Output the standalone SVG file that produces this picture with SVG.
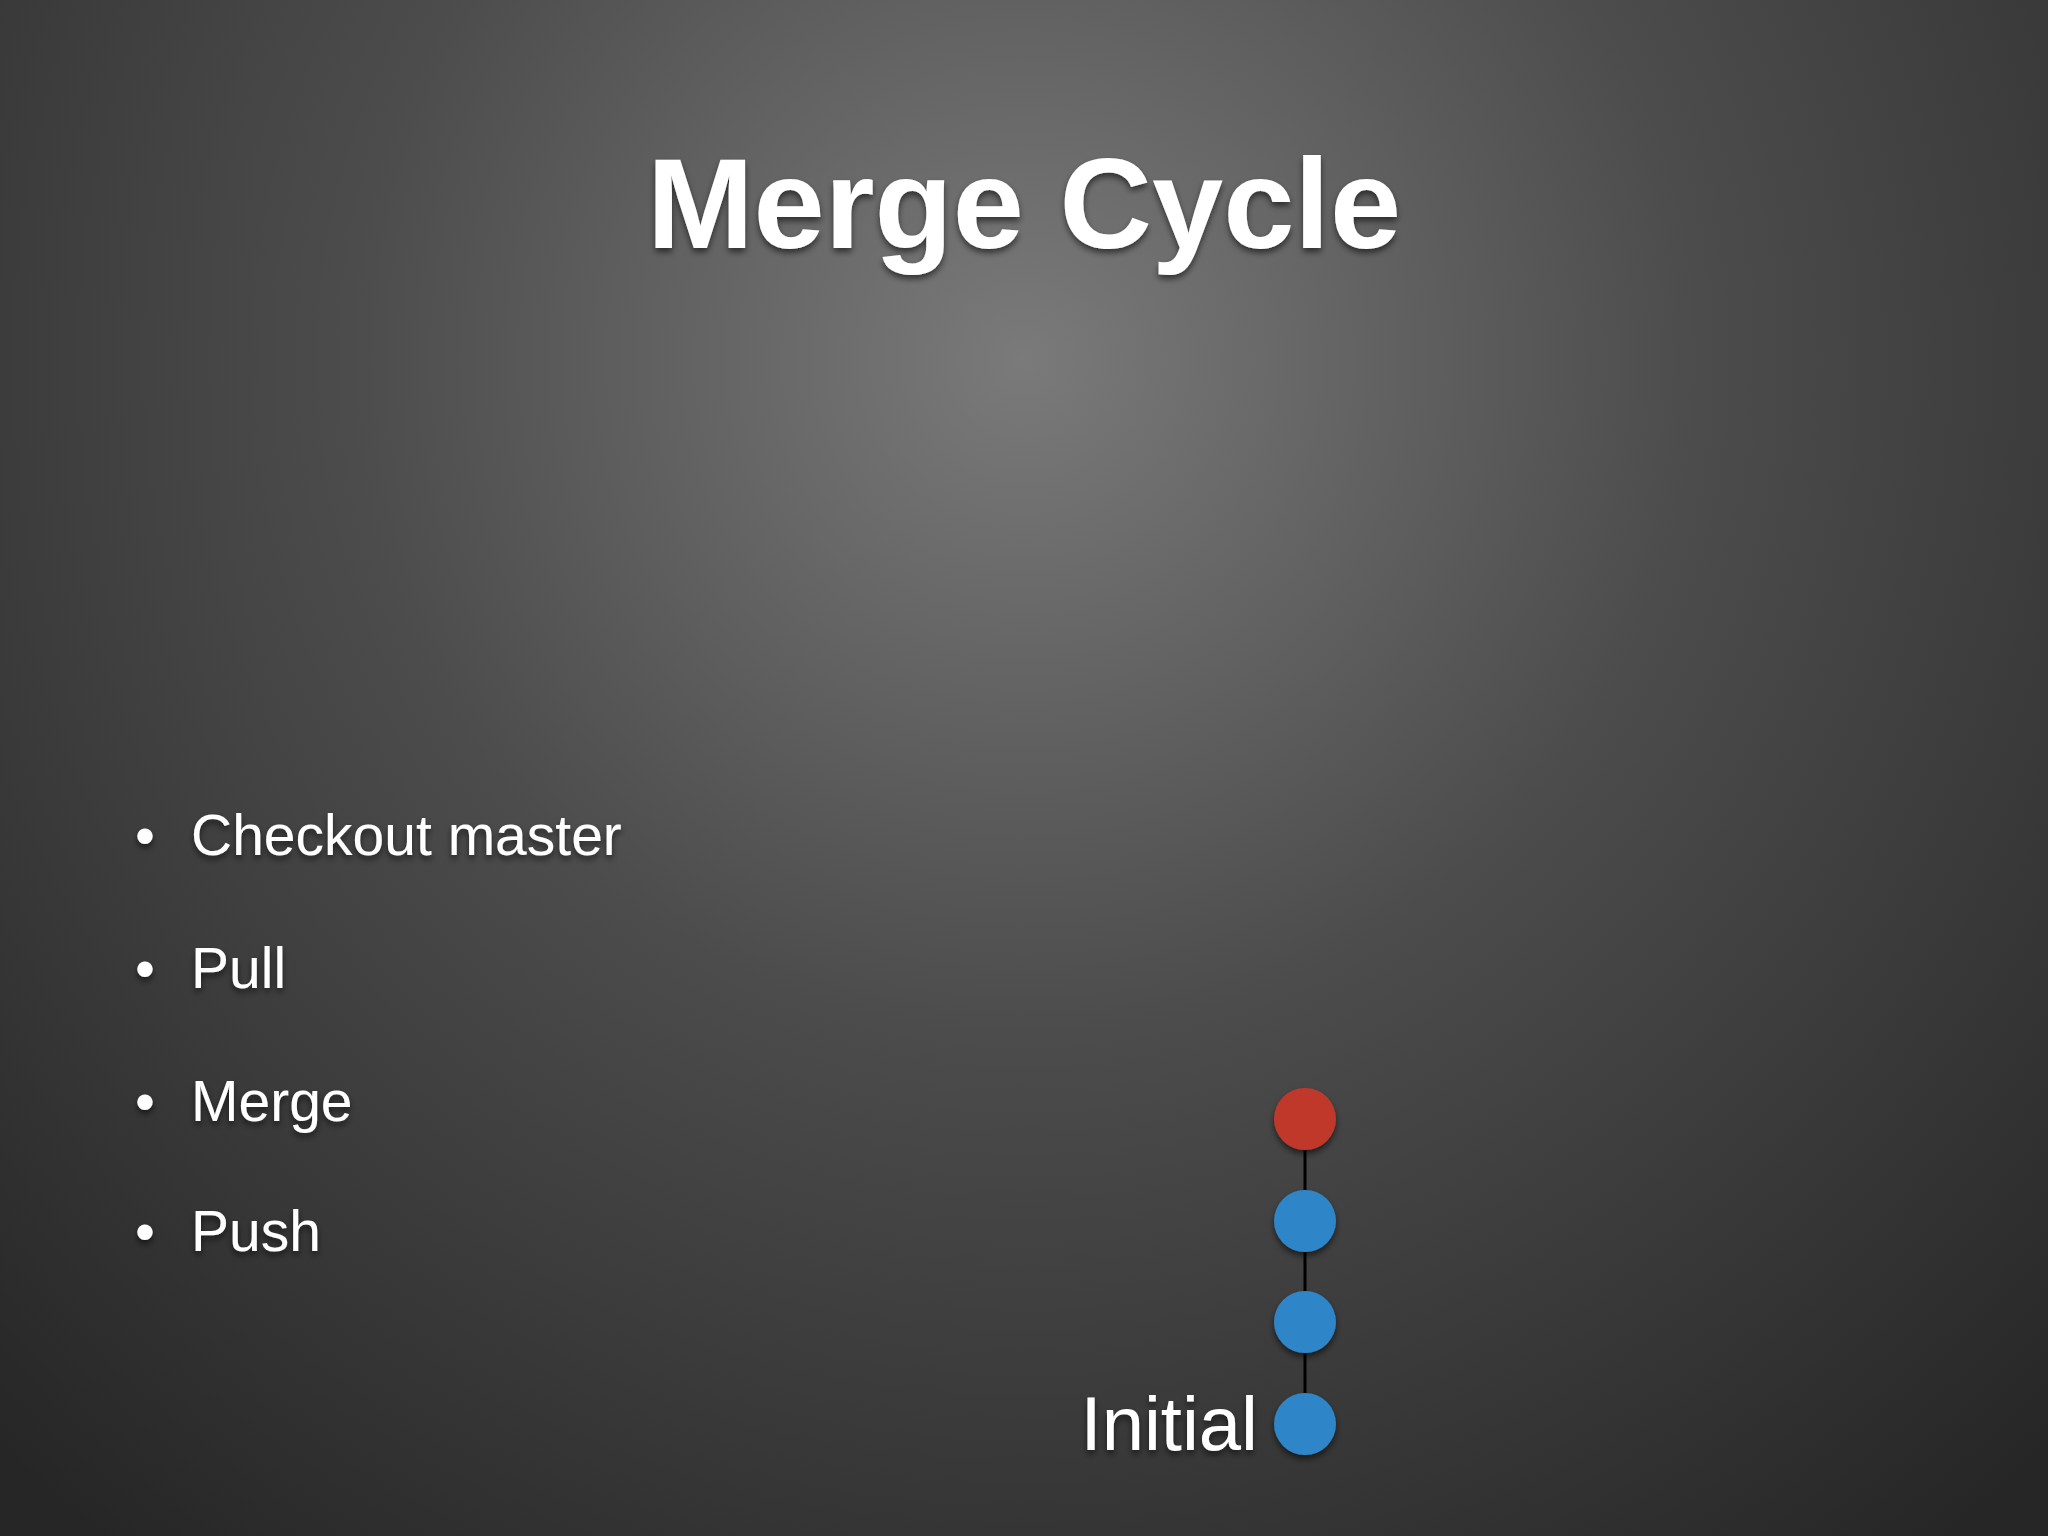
<svg xmlns="http://www.w3.org/2000/svg" width="2048" height="1536" viewBox="0 0 2048 1536">
<defs>
<radialGradient id="bg" cx="1024" cy="360" r="1500" gradientUnits="userSpaceOnUse">
<stop offset="0" stop-color="#7a7a7a"/>
<stop offset="0.45" stop-color="#4c4c4c"/>
<stop offset="1" stop-color="#262626"/>
</radialGradient>
<filter id="sh" x="-10%" y="-20%" width="120%" height="150%">
<feDropShadow dx="0" dy="4" stdDeviation="3" flood-color="#000" flood-opacity="0.55"/>
</filter>
</defs>
<style>
text{font-family:"Liberation Sans",Arial,sans-serif;fill:#fff;filter:url(#sh)}
.b{font-size:57px}
</style>
<rect width="2048" height="1536" fill="url(#bg)"/>
<text x="1024" y="248" font-size="128" font-weight="bold" text-anchor="middle">Merge Cycle</text>
<g id="bullets">
<text class="b" x="135" y="855">•</text><text class="b" x="191" y="855">Checkout master</text>
<text class="b" x="135" y="988">•</text><text class="b" x="191" y="988">Pull</text>
<text class="b" x="135" y="1121">•</text><text class="b" x="191" y="1121">Merge</text>
<text class="b" x="135" y="1251">•</text><text class="b" x="191" y="1251">Push</text>
</g>
<g id="connectors" stroke="#000" stroke-width="3">
<line x1="1305" y1="1150" x2="1305" y2="1190"/>
<line x1="1305" y1="1252" x2="1305" y2="1291"/>
<line x1="1305" y1="1353" x2="1305" y2="1393"/>
</g>
<g id="n4"><circle cx="1305" cy="1119" r="31" fill="#c0392b" filter="url(#sh)"/></g>
<g id="n3"><circle cx="1305" cy="1221" r="31" fill="#2e86c8" filter="url(#sh)"/></g>
<g id="n2"><circle cx="1305" cy="1322" r="31" fill="#2e86c8" filter="url(#sh)"/></g>
<g id="n1"><circle cx="1305" cy="1424" r="31" fill="#2e86c8" filter="url(#sh)"/>
<text x="1258" y="1450" font-size="76" text-anchor="end">Initial</text></g>
</svg>
